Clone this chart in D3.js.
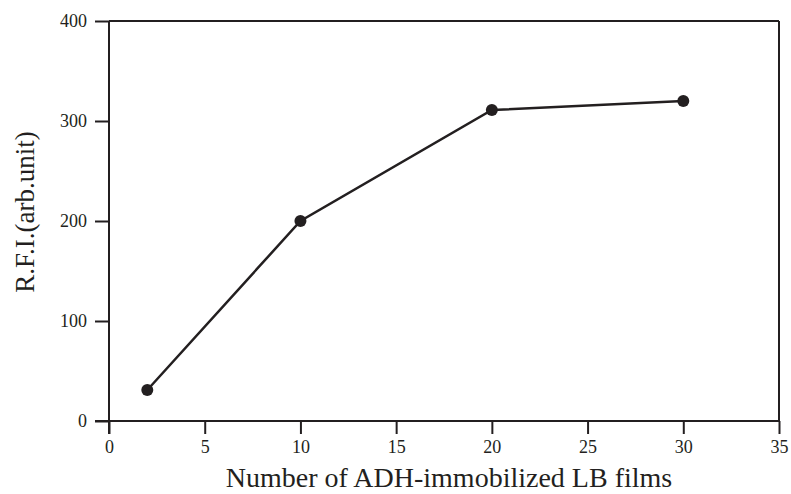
<!DOCTYPE html>
<html>
<head>
<meta charset="utf-8">
<script src="https://cdn.jsdelivr.net/npm/d3@7"></script>
<style>
body { margin: 0; background: #fff; }
text { font-family: "Liberation Serif", "DejaVu Serif", serif; fill: #231f20; }
</style>
</head>
<body>
<script>
// data
var films = [2, 10, 20, 30];
var rfi = [31, 200, 311, 320];
var xTicks = [0, 5, 10, 15, 20, 25, 30, 35];
var yTicks = [0, 100, 200, 300, 400];

var width = 791, height = 494;
var margin = {top: 21, right: 12, bottom: 73, left: 109};
var w = width - margin.left - margin.right,
    h = height - margin.top - margin.bottom;

var x = d3.scaleLinear().domain([0, 35]).range([0, 670]);
var y = d3.scaleLinear().domain([0, 400]).range([h, 0]);

var svg = d3.select("body").append("svg")
    .attr("width", width)
    .attr("height", height);

var g = svg.append("g")
    .attr("transform", "translate(" + margin.left + "," + margin.top + ")");

var ink = "#231f20";

// frame top + right
g.append("line").attr("x1", x(0)).attr("x2", x(35)).attr("y1", y(400)).attr("y2", y(400))
    .attr("stroke", ink).attr("stroke-width", 2);
g.append("line").attr("x1", x(35)).attr("x2", x(35)).attr("y1", y(400)).attr("y2", y(0))
    .attr("stroke", ink).attr("stroke-width", 2);

var xAxis = d3.axisBottom(x).tickValues(xTicks).tickSize(13).tickPadding(6);
var yAxis = d3.axisLeft(y).tickValues(yTicks).tickSize(14).tickPadding(8);

var gx = g.append("g").attr("transform", "translate(0," + h + ")").call(xAxis);
var gy = g.append("g").call(yAxis);

[gx, gy].forEach(function(a) {
    a.select(".domain").remove();
    a.selectAll("line").attr("stroke", ink).attr("stroke-width", 2);
    a.selectAll("text").style("font-size", "18px").attr("fill", ink);
});

// axis lines, running past the origin a little
g.append("line").attr("x1", -14).attr("x2", x(35)).attr("y1", y(0)).attr("y2", y(0))
    .attr("stroke", ink).attr("stroke-width", 2);
g.append("line").attr("x1", x(0)).attr("x2", x(0)).attr("y1", y(400)).attr("y2", y(0) + 13)
    .attr("stroke", ink).attr("stroke-width", 2);

var pts = films.map(function(d, i) { return [d, rfi[i]]; });

var line = d3.line()
    .x(function(d) { return x(d[0]); })
    .y(function(d) { return y(d[1]); });

g.append("path")
    .datum(pts)
    .attr("d", line)
    .attr("fill", "none")
    .attr("stroke", ink)
    .attr("stroke-width", 2.5);

g.selectAll("circle.pt")
    .data(pts)
    .enter().append("circle")
    .attr("class", "pt")
    .attr("cx", function(d) { return x(d[0]); })
    .attr("cy", function(d) { return y(d[1]); })
    .attr("r", 6)
    .attr("fill", ink);

// axis titles
svg.append("text")
    .attr("x", 449)
    .attr("y", 487)
    .attr("text-anchor", "middle")
    .style("font-size", "28px")
    .text("Number of ADH-immobilized LB films");

svg.append("text")
    .attr("transform", "translate(34,212) rotate(-90)")
    .attr("text-anchor", "middle")
    .style("font-size", "27px")
    .text("R.F.I.(arb.unit)");
</script>
</body>
</html>
